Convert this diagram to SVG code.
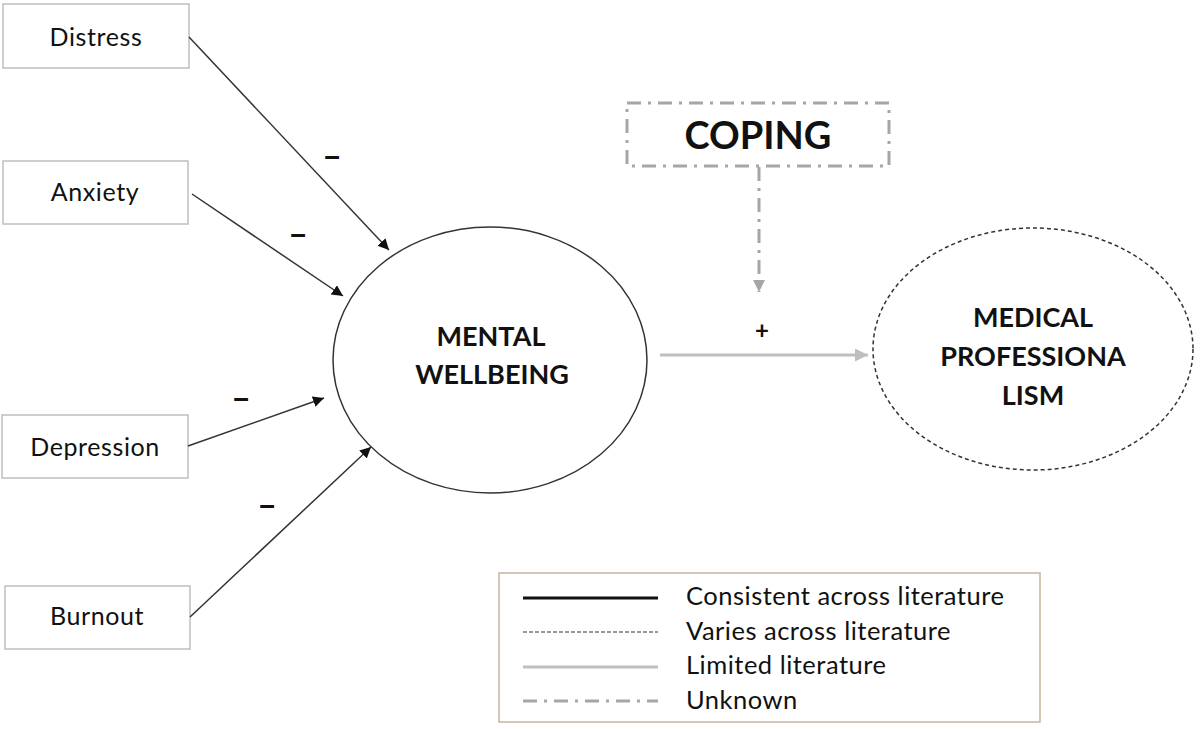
<svg xmlns="http://www.w3.org/2000/svg" width="1200" height="729" viewBox="0 0 1200 729">
<defs>
<style>
text{font-family:Lato,"Liberation Sans",sans-serif;fill:#111}
.box{fill:#fff;stroke:#bfbfbf;stroke-width:1.5}
.lbl{font-size:25px;text-anchor:middle;letter-spacing:0.6px}
.big{font-size:27px;font-weight:bold;text-anchor:middle}
.blk{stroke:#333;stroke-width:1.5;fill:none}
.gry{stroke:#bfbfbf;stroke-width:3;fill:none}
.dd{stroke:#a6a6a6;stroke-width:3;fill:none;stroke-dasharray:14 7 3 7}
.sign{font-size:34px;text-anchor:middle;font-weight:bold}
.leg{font-size:25.5px;letter-spacing:0.5px}
</style>
<marker id="ab" viewBox="0 0 10 10" refX="10" refY="5" markerWidth="11" markerHeight="11" markerUnits="userSpaceOnUse" orient="auto"><path d="M0,0 L10,5 L0,10 z" fill="#111"/></marker>
<marker id="ag" viewBox="0 0 10 10" refX="10" refY="5" markerWidth="13" markerHeight="13" markerUnits="userSpaceOnUse" orient="auto"><path d="M0,0 L10,5 L0,10 z" fill="#bfbfbf"/></marker>
<marker id="ag2" viewBox="0 0 10 10" refX="10" refY="5" markerWidth="12" markerHeight="12" markerUnits="userSpaceOnUse" orient="auto"><path d="M0,0 L10,5 L0,10 z" fill="#a6a6a6"/></marker>
</defs>
<rect width="1200" height="729" fill="#fff"/>
<g id="distress"><rect class="box" x="3" y="4" width="186" height="64"/><text class="lbl" x="96" y="46">Distress</text></g>
<g id="anxiety"><rect class="box" x="3" y="161" width="185" height="63"/><text class="lbl" x="95" y="201">Anxiety</text></g>
<g id="depression"><rect class="box" x="2" y="415" width="186" height="63"/><text class="lbl" x="95" y="456">Depression</text></g>
<g id="burnout"><rect class="box" x="5" y="586" width="185" height="63"/><text class="lbl" x="97" y="625">Burnout</text></g>
<g id="mental"><ellipse cx="490" cy="360" rx="157" ry="133" fill="#fff" stroke="#333" stroke-width="1.5"/><text class="big" x="491" y="346">MENTAL</text><text class="big" x="492" y="384">WELLBEING</text></g>
<g id="medical"><ellipse cx="1033" cy="349" rx="160" ry="121" fill="#fff" stroke="#333" stroke-width="1.5" stroke-dasharray="4 3"/><text class="big" x="1033" y="327">MEDICAL</text><text class="big" x="1033" y="366">PROFESSIONA</text><text class="big" x="1033" y="405">LISM</text></g>
<g id="coping"><rect x="627" y="103" width="262" height="63" fill="#fff" class="dd"/><text x="758" y="149" font-size="38" font-weight="bold" text-anchor="middle">COPING</text></g>
<g id="connectors">
<line class="blk" x1="189" y1="37" x2="389" y2="250" marker-end="url(#ab)"/>
<line class="blk" x1="192" y1="194" x2="343" y2="296" marker-end="url(#ab)"/>
<line class="blk" x1="188" y1="446" x2="324" y2="398" marker-end="url(#ab)"/>
<line class="blk" x1="190" y1="617" x2="371" y2="447" marker-end="url(#ab)"/>
<line class="gry" x1="660" y1="355" x2="868" y2="355" marker-end="url(#ag)"/>
<line class="dd" x1="759" y1="167" x2="759" y2="292" marker-end="url(#ag2)"/>
<text class="sign" x="332" y="168">–</text>
<text class="sign" x="298" y="246">–</text>
<text class="sign" x="241" y="410">–</text>
<text class="sign" x="267" y="517">–</text>
<text x="762" y="339" font-size="24" font-weight="bold" text-anchor="middle">+</text>
</g>
<g id="legend">
<rect x="499" y="573" width="541" height="149" fill="#fff" stroke="#c8b49a" stroke-width="1.5"/>
<line x1="523" y1="598" x2="658" y2="598" stroke="#111" stroke-width="3"/>
<line x1="523" y1="632" x2="658" y2="632" stroke="#333" stroke-width="1.2" stroke-dasharray="4 2"/>
<line x1="523" y1="667" x2="658" y2="667" class="gry"/>
<line x1="523" y1="701" x2="658" y2="701" class="dd"/>
<text class="leg" x="686" y="605">Consistent across literature</text>
<text class="leg" x="686" y="640">Varies across literature</text>
<text class="leg" x="686" y="674">Limited literature</text>
<text class="leg" x="686" y="709">Unknown</text>
</g>
</svg>
